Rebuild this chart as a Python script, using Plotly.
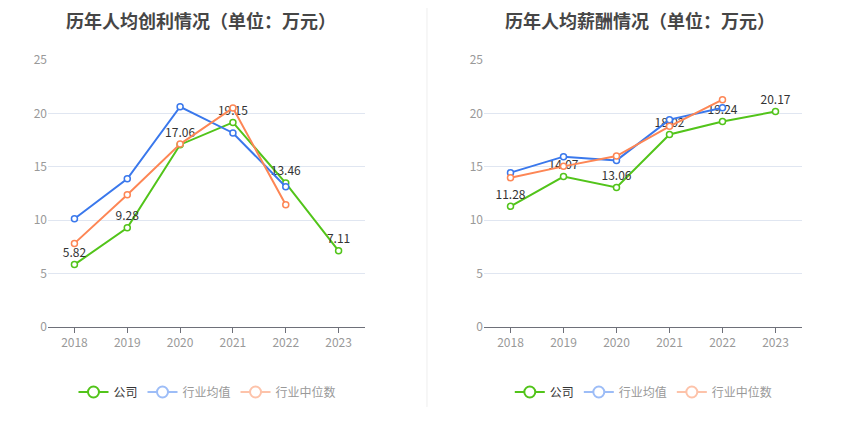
import plotly.graph_objects as go

years = ['2018', '2019', '2020', '2021', '2022', '2023']

# 历年人均创利
profit_company = [5.82, 9.28, 17.06, 19.15, 13.46, 7.11]
profit_avg = [10.12, 13.87, 20.62, 18.16, 13.12]
profit_median = [7.81, 12.37, 17.12, 20.50, 11.44]

# 历年人均薪酬
salary_company = [11.28, 14.07, 13.06, 18.02, 19.24, 20.17]
salary_avg = [14.44, 15.94, 15.59, 19.41, 20.53]
salary_median = [13.97, 15.03, 16.00, 18.78, 21.28]

titles = ['历年人均创利情况（单位：万元）', '历年人均薪酬情况（单位：万元）']
names = ['公司', '行业均值', '行业中位数']

green = '#52c41a'
blue = '#3a78ec'
orange = '#fd8655'
light = ['#52c41a', '#9dbdf7', '#fdc3aa']

fig = go.Figure()


def add_panel(idx, company, avg, median):
    xa = 'x' if idx == 0 else 'x2'
    ya = 'y' if idx == 0 else 'y2'
    leg = 'legend' if idx == 0 else 'legend2'
    fig.add_trace(go.Scatter(
        x=years, y=company, mode='lines+markers+text', xaxis=xa, yaxis=ya,
        line=dict(color=green, width=2),
        marker=dict(symbol='circle', size=6, color='white', line=dict(color=green, width=1.5)),
        text=['%.2f' % v for v in company], textposition='top center',
        textfont=dict(size=12, color='#333333'), showlegend=False, cliponaxis=False))
    for vals, col in [(avg, blue), (median, orange)]:
        fig.add_trace(go.Scatter(
            x=years[:len(vals)], y=vals, mode='lines+markers', xaxis=xa, yaxis=ya,
            line=dict(color=col, width=2),
            marker=dict(symbol='circle', size=6, color='white', line=dict(color=col, width=1.5)),
            showlegend=False, cliponaxis=False))
    # legend-only entries
    for i, nm in enumerate(names):
        label = nm if i == 0 else '<span style="color:#999999">%s</span>' % nm
        fig.add_trace(go.Scatter(
            x=[None], y=[None], mode='lines+markers', xaxis=xa, yaxis=ya,
            name=label, legend=leg,
            line=dict(color=light[i], width=2),
            marker=dict(symbol='circle', size=11, color='white', line=dict(color=light[i], width=2))))


add_panel(0, profit_company, profit_avg, profit_median)
add_panel(1, salary_company, salary_avg, salary_median)

axis_x = dict(type='category', showgrid=False, showline=True, linecolor='#6e7079', linewidth=1,
              ticks='outside', ticklen=5, tickcolor='#6e7079', automargin=False,
              tickfont=dict(size=12, color='#999999'), range=[-0.5, 5.5], fixedrange=True)
axis_y = dict(range=[0, 25], dtick=5, showgrid=True, gridcolor='#e0e6f1', zeroline=False,
              showline=False, tickfont=dict(size=12, color='#999999'), ticks='',
              automargin=False, fixedrange=True)

legend_style = dict(orientation='h', xanchor='center', yanchor='middle', y=0.1213,
                    font=dict(size=12, color='#333333'), bgcolor='rgba(0,0,0,0)',
                    itemwidth=30, tracegroupgap=0)

# the page adds an 8px body margin, so the layout is laid out 8px up and left
fig.update_layout(
    width=850, height=437,
    margin=dict(l=0, r=0, t=0, b=0, pad=0, autoexpand=False),
    paper_bgcolor='white', plot_bgcolor='white',
    font=dict(family='Noto Sans CJK SC, sans-serif'),
    xaxis=dict(axis_x, domain=[0.0471, 0.42], anchor='y'),
    yaxis=dict(axis_y, domain=[0.2707, 0.881], anchor='x'),
    xaxis2=dict(axis_x, domain=[0.56, 0.9341], anchor='y2'),
    yaxis2=dict(axis_y, domain=[0.2707, 0.881], anchor='x2'),
    legend=dict(legend_style, x=0.2347),
    legend2=dict(legend_style, x=0.748),
    showlegend=True,
)

for cx, t in zip([0.227, 0.7435], titles):
    fig.add_annotation(text='<b>%s</b>' % t, x=cx, y=0.9725, xref='paper', yref='paper',
                       showarrow=False, xanchor='center', yanchor='middle', borderpad=0,
                       font=dict(size=18, color='#464646'))

fig.add_shape(type='line', xref='paper', yref='paper', x0=0.4929, x1=0.4929, y0=0.087, y1=1.0,
              line=dict(color='#eeeeee', width=1))

fig.write_html("out.html")
